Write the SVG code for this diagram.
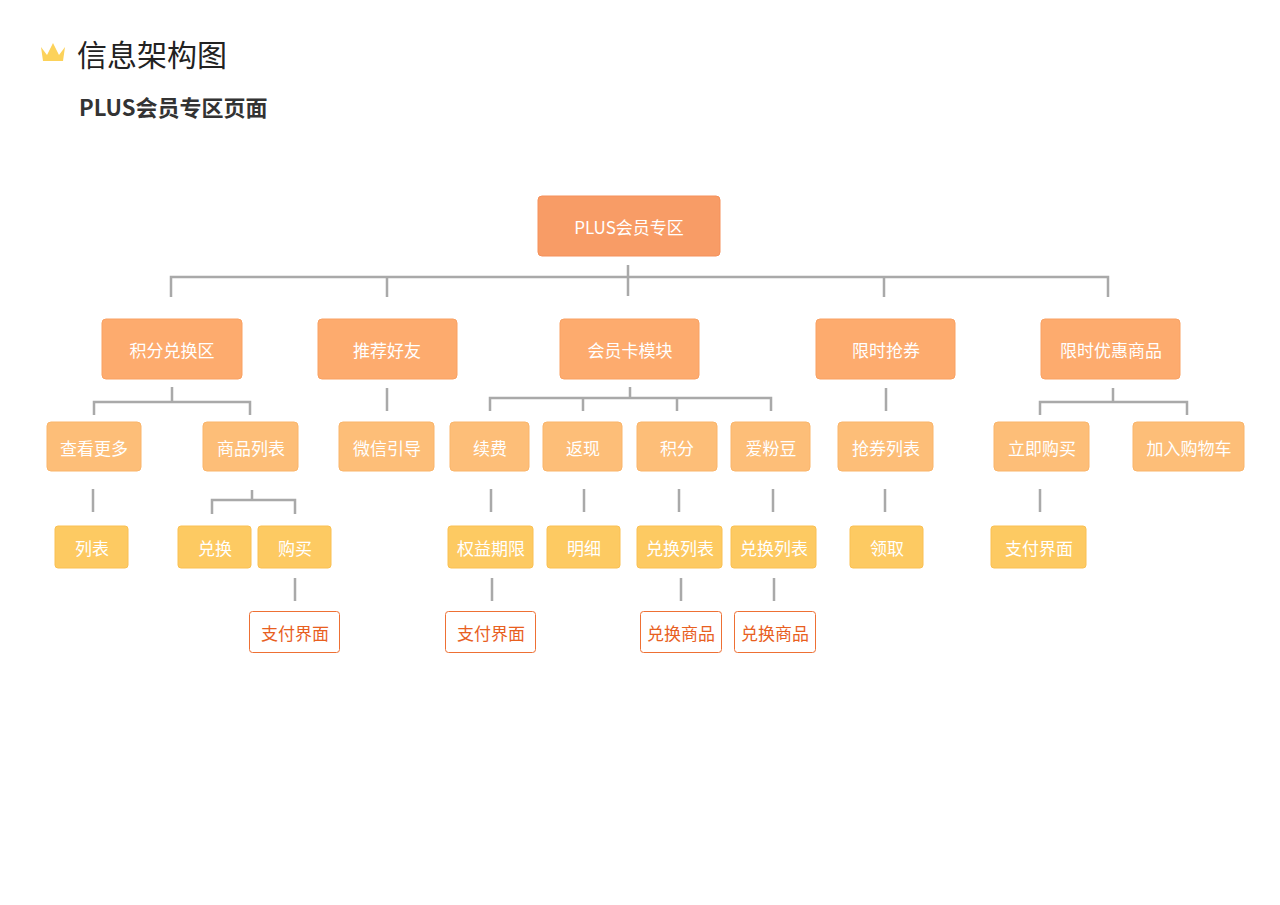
<svg xmlns="http://www.w3.org/2000/svg" width="1280" height="905" viewBox="0 0 1280 905">
<style>
text{font-family:"Noto Sans CJK SC","Noto Sans",sans-serif;text-anchor:middle;dominant-baseline:central}
.l0{fill:#F89C66;stroke:#F5905A}
.l1{fill:#FDAB6E;stroke:#F9A163}
.l2{fill:#FDBE78;stroke:#FAB56B}
.l3{fill:#FDCA62;stroke:#FAC052}
.l4{fill:#fff;stroke:#EE7034}
.w{fill:#fff;font-size:17px}
.o{fill:#E8601F;font-size:17px}
#conn path{fill:none;stroke:#A9A9A9;stroke-width:2.5}
</style>
<rect width="1280" height="905" fill="#fff"/>
<path d="M41 47 L47 55 L53 43 L59 55 L65 47 L63 61 L43 61 Z" fill="#FCD25A"/>
<text x="77" y="53" style="font-size:30px;fill:#222;text-anchor:start">信息架构图</text>
<text x="79" y="106" style="font-size:22px;font-weight:bold;fill:#333;text-anchor:start">PLUS会员专区页面</text>
<g id="conn">
<path d="M628 265V296M171 297V277H1108V297M387 277V297M884 277V297"/>
<path d="M172 387V402M94 415V402H250V415M387 388V411M630 387V398M490 411V398H771V411M583 398V411M677 398V411M886 388V411M1113 388V402M1040 415V402H1187V415"/>
<path d="M93 489V512M252 490V500M212 514V500H295V514M491 489V512M584 489V512M679 489V512M773 489V512M885 489V512M1040 489V512"/>
<path d="M295 578V601M492 578V601M681 578V601M774 578V601"/>
</g>
<g id="root"><rect class="l0" x="538" y="196" width="182" height="60" rx="4"/><text class="w" x="629" y="226">PLUS会员专区</text></g>
<g id="n1"><rect class="l1" x="102" y="319" width="140" height="60" rx="4"/><text class="w" x="172" y="349">积分兑换区</text></g>
<g id="n2"><rect class="l1" x="318" y="319" width="139" height="60" rx="4"/><text class="w" x="387" y="349">推荐好友</text></g>
<g id="n3"><rect class="l1" x="560" y="319" width="139" height="60" rx="4"/><text class="w" x="630" y="349">会员卡模块</text></g>
<g id="n4"><rect class="l1" x="816" y="319" width="139" height="60" rx="4"/><text class="w" x="886" y="349">限时抢券</text></g>
<g id="n5"><rect class="l1" x="1041" y="319" width="139" height="60" rx="4"/><text class="w" x="1111" y="349">限时优惠商品</text></g>
<g id="m1"><rect class="l2" x="47" y="422" width="94" height="49" rx="4"/><text class="w" x="94" y="447">查看更多</text></g>
<g id="m2"><rect class="l2" x="203" y="422" width="95" height="49" rx="4"/><text class="w" x="251" y="447">商品列表</text></g>
<g id="m3"><rect class="l2" x="339" y="422" width="95" height="49" rx="4"/><text class="w" x="387" y="447">微信引导</text></g>
<g id="m4"><rect class="l2" x="450" y="422" width="79" height="49" rx="4"/><text class="w" x="490" y="447">续费</text></g>
<g id="m5"><rect class="l2" x="543" y="422" width="79" height="49" rx="4"/><text class="w" x="583" y="447">返现</text></g>
<g id="m6"><rect class="l2" x="637" y="422" width="80" height="49" rx="4"/><text class="w" x="677" y="447">积分</text></g>
<g id="m7"><rect class="l2" x="731" y="422" width="79" height="49" rx="4"/><text class="w" x="771" y="447">爱粉豆</text></g>
<g id="m8"><rect class="l2" x="838" y="422" width="95" height="49" rx="4"/><text class="w" x="886" y="447">抢券列表</text></g>
<g id="m9"><rect class="l2" x="994" y="422" width="95" height="49" rx="4"/><text class="w" x="1042" y="447">立即购买</text></g>
<g id="m10"><rect class="l2" x="1133" y="422" width="111" height="49" rx="4"/><text class="w" x="1189" y="447">加入购物车</text></g>
<g id="k1"><rect class="l3" x="55" y="526" width="73" height="42" rx="3"/><text class="w" x="92" y="547">列表</text></g>
<g id="k2"><rect class="l3" x="178" y="526" width="73" height="42" rx="3"/><text class="w" x="215" y="547">兑换</text></g>
<g id="k3"><rect class="l3" x="258" y="526" width="73" height="42" rx="3"/><text class="w" x="295" y="547">购买</text></g>
<g id="k4"><rect class="l3" x="448" y="526" width="85" height="42" rx="3"/><text class="w" x="491" y="547">权益期限</text></g>
<g id="k5"><rect class="l3" x="547" y="526" width="73" height="42" rx="3"/><text class="w" x="584" y="547">明细</text></g>
<g id="k6"><rect class="l3" x="637" y="526" width="85" height="42" rx="3"/><text class="w" x="680" y="547">兑换列表</text></g>
<g id="k7"><rect class="l3" x="731" y="526" width="85" height="42" rx="3"/><text class="w" x="774" y="547">兑换列表</text></g>
<g id="k8"><rect class="l3" x="850" y="526" width="73" height="42" rx="3"/><text class="w" x="887" y="547">领取</text></g>
<g id="k9"><rect class="l3" x="991" y="526" width="95" height="42" rx="3"/><text class="w" x="1039" y="547">支付界面</text></g>
<g id="p1"><rect class="l4" x="249.5" y="611.5" width="90" height="41" rx="3"/><text class="o" x="295" y="632">支付界面</text></g>
<g id="p2"><rect class="l4" x="445.5" y="611.5" width="90" height="41" rx="3"/><text class="o" x="491" y="632">支付界面</text></g>
<g id="p3"><rect class="l4" x="640.5" y="611.5" width="81" height="41" rx="3"/><text class="o" x="681" y="632">兑换商品</text></g>
<g id="p4"><rect class="l4" x="734.5" y="611.5" width="81" height="41" rx="3"/><text class="o" x="775" y="632">兑换商品</text></g>
</svg>
